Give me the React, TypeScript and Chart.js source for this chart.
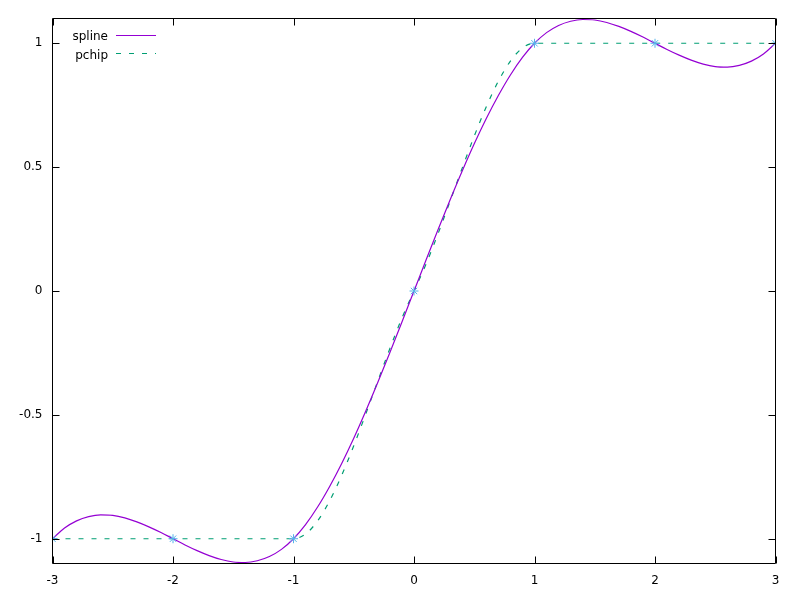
import React, { useEffect, useRef } from 'react';
import { Chart, registerables } from 'chart.js';

Chart.register(...registerables);

// Data points (markers)
const knotX = [-3, -2, -1, 0, 1, 2, 3];
const knotY = [-1, -1, -1, 0, 1, 1, 1];

// Spline curve samples
const splineX = [
  -3.0, -2.9, -2.8, -2.7, -2.6, -2.5, -2.4, -2.3, -2.2, -2.1,
  -2.0, -1.9, -1.8, -1.7, -1.6, -1.5, -1.4, -1.3, -1.2, -1.1,
  -1.0, -0.9, -0.8, -0.7, -0.6, -0.5, -0.4, -0.3, -0.2, -0.1,
  0.0, 0.1, 0.2, 0.3, 0.4, 0.5, 0.6, 0.7, 0.8, 0.9,
  1.0, 1.1, 1.2, 1.3, 1.4, 1.5, 1.6, 1.7, 1.8, 1.9,
  2.0, 2.1, 2.2, 2.3, 2.4, 2.5, 2.6, 2.7, 2.8, 2.9, 3.0,
];
const splineY = [
  -1, -0.957, -0.928, -0.911, -0.904, -0.906, -0.916, -0.932, -0.952, -0.975,
  -1, -1.025, -1.048, -1.068, -1.084, -1.094, -1.096, -1.089, -1.072, -1.043,
  -1, -0.943, -0.872, -0.789, -0.696, -0.594, -0.484, -0.368, -0.248, -0.125,
  0, 0.125, 0.248, 0.368, 0.484, 0.594, 0.696, 0.789, 0.872, 0.943,
  1, 1.043, 1.072, 1.089, 1.096, 1.094, 1.084, 1.068, 1.048, 1.025,
  1, 0.975, 0.952, 0.932, 0.916, 0.906, 0.904, 0.911, 0.928, 0.957, 1,
];

// pchip curve samples
const pchipX = [
  -3, -2, -1, -0.9, -0.8, -0.7, -0.6, -0.5, -0.4, -0.3, -0.2, -0.1,
  0, 0.1, 0.2, 0.3, 0.4, 0.5, 0.6, 0.7, 0.8, 0.9, 1, 2, 3,
];
const pchipY = [
  -1, -1, -1, -0.981, -0.928, -0.847, -0.744, -0.625, -0.496, -0.363, -0.232, -0.109,
  0, 0.109, 0.232, 0.363, 0.496, 0.625, 0.744, 0.847, 0.928, 0.981, 1, 1, 1,
];

const xTicks = [-3, -2, -1, 0, 1, 2, 3];
const yTicks = [-1, -0.5, 0, 0.5, 1];
const legendLabels = ['spline', 'pchip'];

const COLOR_SPLINE = '#9400d3';
const COLOR_PCHIP = '#009e73';
const COLOR_POINTS = '#56b4e9';
const FONT = '12px "DejaVu Sans", sans-serif';

const framePlugin = {
  id: 'gnuFrame',
  afterDatasetsDraw(chart: any) {
    const { ctx, chartArea } = chart;
    const { left, right, top, bottom } = chartArea;
    const xs = chart.scales.x;
    const ys = chart.scales.y;
    const tl = 7;
    ctx.save();
    ctx.strokeStyle = '#000';
    ctx.lineWidth = 1;
    ctx.beginPath();
    ctx.rect(left, top, right - left, bottom - top);
    for (const v of xTicks) {
      const px = Math.round(xs.getPixelForValue(v)) + 0.5;
      ctx.moveTo(px, bottom);
      ctx.lineTo(px, bottom - tl);
      ctx.moveTo(px, top);
      ctx.lineTo(px, top + tl);
    }
    for (const v of yTicks) {
      const py = Math.round(ys.getPixelForValue(v)) + 0.5;
      ctx.moveTo(left, py);
      ctx.lineTo(left + tl, py);
      ctx.moveTo(right, py);
      ctx.lineTo(right - tl, py);
    }
    ctx.stroke();

    // legend (gnuplot style key, top-left inside)
    ctx.font = FONT;
    ctx.fillStyle = '#000';
    ctx.textAlign = 'right';
    ctx.textBaseline = 'alphabetic';
    const textBase = [40, 58.5];
    const lineRows = [35.5, 53.5];
    const styles = [
      { color: COLOR_SPLINE, dash: [] as number[] },
      { color: COLOR_PCHIP, dash: [5, 8] },
    ];
    legendLabels.forEach((lab, i) => {
      ctx.fillText(lab, 108, textBase[i]);
      ctx.beginPath();
      ctx.strokeStyle = styles[i].color;
      ctx.lineWidth = 1.2;
      ctx.setLineDash(styles[i].dash);
      ctx.moveTo(116, lineRows[i]);
      ctx.lineTo(156, lineRows[i]);
      ctx.stroke();
      ctx.setLineDash([]);
    });
    ctx.restore();
  },
};

export default function App() {
  const ref = useRef<HTMLCanvasElement | null>(null);
  useEffect(() => {
    document.body.style.margin = '0';
    if (!ref.current) return;
    const chart = new Chart(ref.current, {
      type: 'scatter',
      data: {
        datasets: [
          {
            label: 'points',
            data: knotX.map((x, i) => ({ x, y: knotY[i] })),
            showLine: false,
            pointStyle: 'star',
            pointRadius: 4.5,
            pointBorderColor: COLOR_POINTS,
            pointBackgroundColor: COLOR_POINTS,
            pointBorderWidth: 1,
            order: 0,
          },
          {
            label: 'spline',
            data: splineX.map((x, i) => ({ x, y: splineY[i] })),
            showLine: true,
            borderColor: COLOR_SPLINE,
            borderWidth: 1.2,
            pointRadius: 0,
            cubicInterpolationMode: 'monotone',
            order: 1,
          },
          {
            label: 'pchip',
            data: pchipX.map((x, i) => ({ x, y: pchipY[i] })),
            showLine: true,
            borderColor: COLOR_PCHIP,
            borderWidth: 1.2,
            borderDash: [5, 8],
            pointRadius: 0,
            cubicInterpolationMode: 'monotone',
            order: 2,
          },
        ] as any,
      },
      options: {
        animation: false,
        responsive: false,
        maintainAspectRatio: false,
        events: [],
        layout: { padding: { top: 18.5, right: 24.5, left: 0, bottom: 0 } },
        plugins: { legend: { display: false }, tooltip: { enabled: false } },
        scales: {
          x: {
            type: 'linear',
            min: -3,
            max: 3,
            afterBuildTicks: (s: any) => {
              s.ticks = xTicks.map((v) => ({ value: v }));
            },
            afterFit: (s: any) => {
              s.height = 36.5;
            },
            grid: { display: false, drawTicks: false },
            border: { display: false },
            ticks: {
              color: '#000',
              font: { family: '"DejaVu Sans", sans-serif', size: 12 },
              padding: 10,
              maxRotation: 0,
              autoSkip: false,
              callback: (v: any) => String(v),
            },
          },
          y: {
            type: 'linear',
            min: -1.1,
            max: 1.1,
            afterBuildTicks: (s: any) => {
              s.ticks = yTicks.map((v) => ({ value: v }));
            },
            afterFit: (s: any) => {
              s.width = 52.5;
            },
            grid: { display: false, drawTicks: false },
            border: { display: false },
            ticks: {
              color: '#000',
              font: { family: '"DejaVu Sans", sans-serif', size: 12 },
              padding: 10,
              autoSkip: false,
              callback: (v: any) => String(v),
            },
          },
        },
      },
      plugins: [framePlugin],
    });
    return () => chart.destroy();
  }, []);
  return (
    <div style={{ position: 'fixed', left: 0, top: 0, width: 800, height: 600, background: '#fff' }}>
      <canvas ref={ref} width={800} height={600} style={{ width: 800, height: 600 }} />
    </div>
  );
}
